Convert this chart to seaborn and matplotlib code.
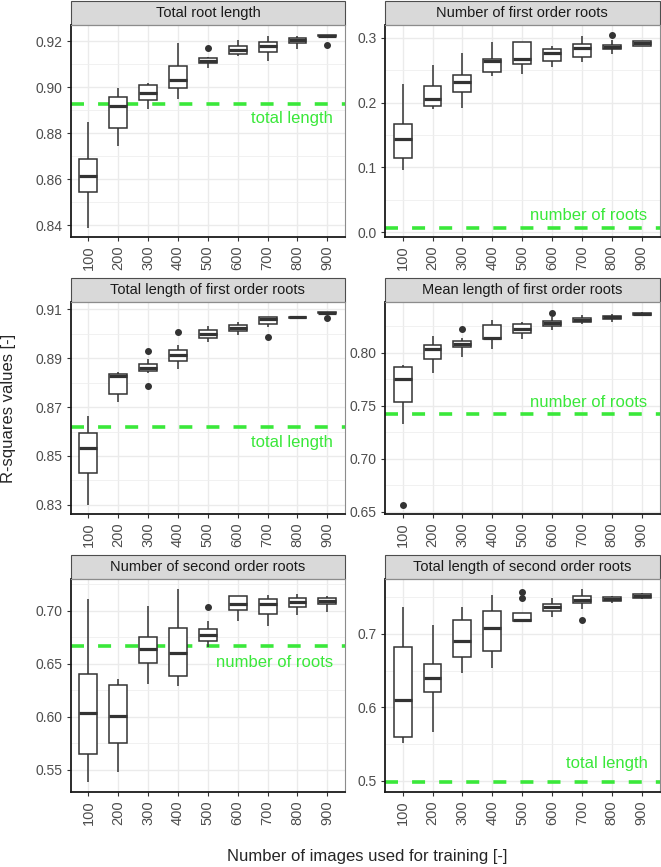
import matplotlib
matplotlib.use("Agg")

import numpy as np
import pandas as pd
import matplotlib.pyplot as plt
import seaborn as sns
from matplotlib.patches import Rectangle
from matplotlib.ticker import MultipleLocator, FormatStrFormatter


# ======================================================
# Data
# ======================================================

SIZES = ["100", "200", "300", "400", "500", "600", "700", "800", "900"]

TITLES = [
    "Total root length",
    "Number of first order roots",
    "Total length of first order roots",
    "Mean length of first order roots",
    "Number of second order roots",
    "Total length of second order roots",
]

# five-number summaries, one row per panel, one column per training size
WHISK_LO = [
    [0.8390, 0.8746, 0.8906, 0.8949, 0.9084, 0.9135, 0.9113, 0.9167, 0.9221],
    [0.0958, 0.1905, 0.1918, 0.2405, 0.2436, 0.2559, 0.2631, 0.2754, 0.2870],
    [0.8300, 0.8722, 0.8838, 0.8856, 0.8968, 0.8997, 0.9030, 0.9065, 0.9084],
    [0.7330, 0.7812, 0.7962, 0.8037, 0.8128, 0.8216, 0.8269, 0.8294, 0.8345],
    [0.5386, 0.5480, 0.6309, 0.6287, 0.6658, 0.6903, 0.6852, 0.6956, 0.6987],
    [0.5522, 0.5671, 0.6474, 0.6542, 0.7163, 0.7222, 0.7336, 0.7417, 0.7476],
]
Q1 = [
    [0.8543, 0.8822, 0.8946, 0.8998, 0.9105, 0.9146, 0.9155, 0.9193, 0.9222],
    [0.1143, 0.1946, 0.2159, 0.2472, 0.2600, 0.2646, 0.2713, 0.2826, 0.2877],
    [0.8431, 0.8755, 0.8847, 0.8889, 0.8982, 0.9011, 0.9040, 0.9066, 0.9085],
    [0.7534, 0.7941, 0.8052, 0.8131, 0.8185, 0.8252, 0.8294, 0.8319, 0.8351],
    [0.5653, 0.5753, 0.6507, 0.6388, 0.6714, 0.7005, 0.6969, 0.7031, 0.7062],
    [0.5603, 0.6215, 0.6683, 0.6764, 0.7168, 0.7313, 0.7413, 0.7445, 0.7486],
]
MEDIAN = [
    [0.8613, 0.8920, 0.8974, 0.9030, 0.9115, 0.9164, 0.9178, 0.9204, 0.9225],
    [0.1435, 0.2054, 0.2318, 0.2641, 0.2670, 0.2769, 0.2841, 0.2862, 0.2918],
    [0.8531, 0.8829, 0.8862, 0.8914, 0.8999, 0.9026, 0.9062, 0.9068, 0.9087],
    [0.7750, 0.8031, 0.8085, 0.8138, 0.8222, 0.8282, 0.8310, 0.8335, 0.8366],
    [0.6033, 0.6005, 0.6642, 0.6601, 0.6772, 0.7060, 0.7063, 0.7082, 0.7095],
    [0.6107, 0.6406, 0.6905, 0.7082, 0.7186, 0.7358, 0.7463, 0.7476, 0.7508],
]
Q3 = [
    [0.8688, 0.8958, 0.9009, 0.9091, 0.9126, 0.9178, 0.9199, 0.9213, 0.9228],
    [0.1666, 0.2257, 0.2425, 0.2677, 0.2937, 0.2836, 0.2913, 0.2897, 0.2949],
    [0.8596, 0.8836, 0.8875, 0.8934, 0.9014, 0.9038, 0.9068, 0.9069, 0.9089],
    [0.7865, 0.8075, 0.8114, 0.8257, 0.8266, 0.8296, 0.8325, 0.8347, 0.8379],
    [0.6404, 0.6303, 0.6755, 0.6837, 0.6827, 0.7135, 0.7110, 0.7120, 0.7118],
    [0.6823, 0.6587, 0.7186, 0.7304, 0.7278, 0.7399, 0.7508, 0.7494, 0.7535],
]
WHISK_HI = [
    [0.8848, 0.8997, 0.9019, 0.9193, 0.9133, 0.9207, 0.9225, 0.9222, 0.9229],
    [0.2292, 0.2585, 0.2769, 0.2938, 0.2945, 0.2882, 0.3031, 0.2969, 0.2960],
    [0.8662, 0.8845, 0.8897, 0.8955, 0.9031, 0.9048, 0.9071, 0.9070, 0.9090],
    [0.7887, 0.8157, 0.8141, 0.8313, 0.8291, 0.8332, 0.8351, 0.8363, 0.8385],
    [0.7110, 0.6356, 0.7047, 0.7204, 0.6906, 0.7140, 0.7151, 0.7160, 0.7135],
    [0.7363, 0.7118, 0.7358, 0.7522, 0.7285, 0.7486, 0.7608, 0.7517, 0.7549],
]

# outliers as (size index, value)
OUTLIERS = [
    [(4, 0.9171), (8, 0.9186)],
    [(7, 0.3051)],
    [(2, 0.8929), (2, 0.8786), (3, 0.9009), (6, 0.8989), (8, 0.9064)],
    [(0, 0.6566), (2, 0.8222), (5, 0.8378)],
    [(4, 0.7031)],
    [(4, 0.7486), (4, 0.7575), (6, 0.7190)],
]

# reference R-square of the baseline method
REF_VALUES = [0.8928, 0.0071, 0.8618, 0.7421, 0.6670, 0.4985]
REF_LABELS = [
    "total length",
    "number of roots",
    "total length",
    "number of roots",
    "number of roots",
    "total length",
]

# ======================================================
# Style
# ======================================================

Y_STEP = [0.02, 0.1, 0.02, 0.05, 0.05, 0.1]
Y_TICK_OFFSET = [0.0, 0.0, 0.01, 0.0, 0.0, 0.0]
Y_FMT = ["%.2f", "%.1f", "%.2f", "%.2f", "%.2f", "%.1f"]
LABEL_OFFSET_PX = [-7.5, 7.5, -7.5, 6.8, -9.0, 13.7]

GREEN = "#3AE83A"
DARK = "#333333"
TICK_TEXT = "#4D4D4D"


def build_frame():
    """
    Long-form table: each box gets its five numbers (repeated so the
    quartiles stay put) plus its outliers.
    """

    rows = []

    for p in range(len(TITLES)):
        for i, size in enumerate(SIZES):
            core = [WHISK_LO[p][i], Q1[p][i], MEDIAN[p][i],
                    Q3[p][i], WHISK_HI[p][i]]
            for v in core * 20:
                rows.append((p, size, v))
        for i, v in OUTLIERS[p]:
            rows.append((p, SIZES[i], v))

    return pd.DataFrame(rows, columns=["panel", "size", "value"])


df = build_frame()

sns.set_theme(style="whitegrid")
plt.rcParams["font.family"] = ["Liberation Sans", "DejaVu Sans"]

fig, axes = plt.subplots(3, 2, figsize=(6.61, 8.67), dpi=100)

fig.subplots_adjust(
    left=70.5 / 661,
    right=659.5 / 661,
    top=1 - 25 / 867,
    bottom=1 - 791.7 / 867,
    wspace=39.5 / 274.75,
    hspace=65 / 212.3,
)

strip_h = 24 / 212.3

for p, ax in enumerate(axes.flat):

    sub = df[df["panel"] == p]

    sns.boxplot(
        data=sub,
        x="size",
        y="value",
        order=SIZES,
        ax=ax,
        width=0.6,
        color="white",
        linecolor=DARK,
        linewidth=1.1,
        fliersize=4,
        showcaps=False,
        flierprops=dict(marker="o", markerfacecolor=DARK,
                        markeredgecolor=DARK),
        medianprops=dict(linewidth=2.3),
    )

    ax.axhline(REF_VALUES[p], color=GREEN, linewidth=2.6,
               dashes=(3.6, 3.9), zorder=1.5)

    offset = LABEL_OFFSET_PX[p] * 0.72
    ax.annotate(
        REF_LABELS[p],
        xy=(8.2, REF_VALUES[p]),
        xycoords="data",
        xytext=(0, offset),
        textcoords="offset points",
        ha="right",
        va="top" if offset < 0 else "baseline",
        color=GREEN,
        fontsize=12,
    )

    # limits like ggplot: 5 % padding, 0.6 units on the discrete axis
    values = (WHISK_LO[p] + WHISK_HI[p] + [REF_VALUES[p]]
              + [v for _, v in OUTLIERS[p]])
    lo, hi = min(values), max(values)
    pad = 0.05 * (hi - lo)
    ax.set_ylim(lo - pad, hi + pad)
    ax.set_xlim(-0.6, len(SIZES) - 0.4)

    ax.yaxis.set_major_locator(MultipleLocator(Y_STEP[p], Y_TICK_OFFSET[p]))
    ax.yaxis.set_minor_locator(MultipleLocator(Y_STEP[p] / 2))
    ax.yaxis.set_major_formatter(FormatStrFormatter(Y_FMT[p]))

    ax.set_axisbelow(True)
    ax.grid(True, which="major", axis="both", color="#EBEBEB", linewidth=1.0)
    ax.grid(True, which="minor", axis="y", color="#EFEFEF", linewidth=0.6)

    ax.tick_params(axis="x", labelrotation=90, labelsize=10.5,
                   labelcolor=TICK_TEXT, length=3, width=0.8,
                   color=DARK, pad=3, bottom=True)
    ax.tick_params(axis="y", which="major", labelsize=10,
                   labelcolor=TICK_TEXT, length=3, width=0.8,
                   color=DARK, pad=3, left=True)
    ax.tick_params(axis="y", which="minor", length=0)

    ax.set_xlabel("")
    ax.set_ylabel("")

    for side in ["left", "bottom"]:
        ax.spines[side].set_color("#1A1A1A")
        ax.spines[side].set_linewidth(1.3)
    for side in ["top", "right"]:
        ax.spines[side].set_color("#8C8C8C")
        ax.spines[side].set_linewidth(0.8)

    # facet strip
    ax.add_patch(Rectangle(
        (0, 1), 1, strip_h,
        transform=ax.transAxes,
        clip_on=False,
        facecolor="#D9D9D9",
        edgecolor="#4D4D4D",
        linewidth=0.8,
    ))
    ax.text(0.5, 1 + strip_h / 2, TITLES[p], transform=ax.transAxes,
            ha="center", va="center", fontsize=10.5, color="#1A1A1A")

fig.text(367 / 661, 1 - 856 / 867, "Number of images used for training [-]",
         ha="center", va="center", fontsize=12)
fig.text(9 / 661, 1 - 408 / 867, "R-squares values [-]",
         ha="center", va="center", rotation=90, fontsize=12)

fig.savefig("out.png", dpi=100)
plt.close(fig)
